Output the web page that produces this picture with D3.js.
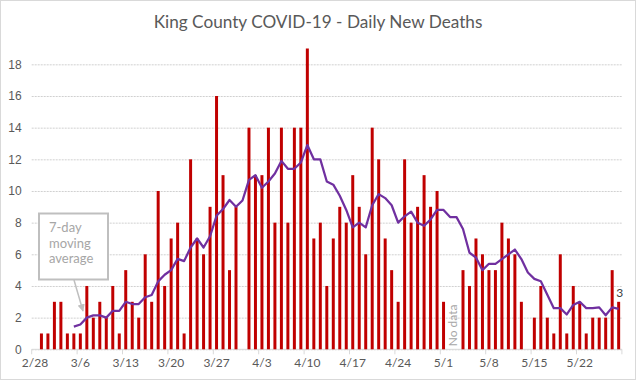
<!DOCTYPE html>
<html>
<head>
<meta charset="utf-8">
<script src="https://cdn.jsdelivr.net/npm/d3@7"></script>
<style>
body { margin: 0; background: #fff; }
svg { display: block; font-family: Lato, "Open Sans", sans-serif; }
</style>
</head>
<body>
<svg id="chart"></svg>
<script>
// one category per day, 2/28 .. 5/28 (2020)
var days = d3.timeDays(new Date(2020, 1, 28), new Date(2020, 4, 29));

// daily new deaths (null = no bar drawn)
var deaths = [0,1,1,3,3,1,1,1,4,2, 3,2,4,1,5,3,2,6,3,10, 4,7,8,1,12,7,6,9,16,11,
  5,9,null,14,11,11,14,8,14,8, 14,14,19,7,8,4,7,9,8,11, 9,6,14,12,7,5,3,12,8,9,
  11,9,10,3,null,null,5,4,7,6, 5,5,8,7,6,3,0,2,4,2, 1,6,1,4,3,1,2,2,2,5,3];

// 7-day moving average
var avg7 = [null,null,null,null,null,null,
  1.43,1.57,2.0,2.14,2.14,2.0,2.43,2.43,3.0,2.86,
  2.86,3.29,3.43,4.29,4.71,5.0,5.71,5.57,6.43,7.0,
  6.43,7.14,8.43,8.86,9.43,9.0,9.4,10.7,11.0,10.2,
  10.6,11.1,11.9,11.4,11.4,11.8,12.9,12.0,12.0,10.6,
  10.4,9.7,8.8,7.7,8.0,7.7,9.1,9.8,9.55,9.1,
  8.0,8.4,8.7,8.0,7.8,8.2,8.8,8.8,8.35,8.35,
  7.6,6.1,5.8,5.0,5.4,5.4,5.7,6.0,6.3,5.7,
  4.85,4.45,4.3,3.45,2.6,2.6,2.2,2.8,3.0,2.6,
  2.6,2.65,2.15,2.65,2.55];

var tickLabels = ["2/28","3/6","3/13","3/20","3/27","4/3","4/10","4/17","4/24","5/1","5/8","5/15","5/22"];
var yTicks = [0,2,4,6,8,10,12,14,16,18];

var width = 636, height = 381;
var plotLeft = 31.7, plotRight = 621.9, plotTop = 48.5, plotBottom = 349.3;

var svg = d3.select("#chart")
    .attr("width", width)
    .attr("height", height);

svg.append("rect")
    .attr("x", 0.5).attr("y", 0.5)
    .attr("width", width - 1).attr("height", height - 2)
    .attr("fill", "#fff")
    .attr("stroke", "#d9d9d9");

var x = d3.scaleBand()
    .domain(d3.range(days.length))
    .range([plotLeft, plotRight])
    .paddingInner(0.54)
    .paddingOuter(0.27);

var y = d3.scaleLinear()
    .domain([0, 19])
    .range([plotBottom, plotTop]);

var cx = function(i) { return x(i) + x.bandwidth() / 2; };

// gridlines + y labels
var yAxis = svg.append("g")
    .attr("transform", "translate(" + plotLeft + ",0)")
    .call(d3.axisLeft(y).tickValues(yTicks).tickSize(-(plotRight - plotLeft)).tickPadding(10));
yAxis.select(".domain").remove();
yAxis.selectAll(".tick line")
    .attr("stroke", "#d0d0d0")
    .attr("stroke-dasharray", "2,1");
yAxis.selectAll(".tick text")
    .attr("fill", "#595959")
    .attr("font-size", "12px");

// x axis line and ticks every 7 days
svg.append("line")
    .attr("x1", plotLeft).attr("x2", plotRight)
    .attr("y1", plotBottom).attr("y2", plotBottom)
    .attr("stroke", "#d9d9d9");

var step = x.step();
svg.selectAll(".xtick")
    .data(d3.range(0, days.length + 1, 7))
    .enter()
    .append("line")
    .attr("x1", function(d) { return plotLeft + d * step; })
    .attr("x2", function(d) { return plotLeft + d * step; })
    .attr("y1", plotBottom)
    .attr("y2", plotBottom + 5)
    .attr("stroke", "#d9d9d9");

svg.selectAll(".xlabel")
    .data(tickLabels)
    .enter()
    .append("text")
    .attr("x", function(d, i) { return cx(i * 7); })
    .attr("y", 367)
    .attr("text-anchor", "middle")
    .attr("fill", "#595959")
    .attr("font-size", "12px")
    .text(function(d) { return d; });

// bars
var barData = deaths
    .map(function(v, i) { return { i: i, v: v }; })
    .filter(function(d) { return d.v; });

svg.selectAll(".bar")
    .data(barData)
    .enter()
    .append("rect")
    .attr("x", function(d) { return x(d.i); })
    .attr("width", x.bandwidth())
    .attr("y", function(d) { return y(d.v); })
    .attr("height", function(d) { return plotBottom - y(d.v); })
    .attr("fill", "#c00000");

// moving average
var line = d3.line()
    .defined(function(d) { return d != null; })
    .x(function(d, i) { return cx(i); })
    .y(function(d) { return y(d); });

svg.append("path")
    .datum(avg7)
    .attr("d", line)
    .attr("fill", "none")
    .attr("stroke", "#7030a0")
    .attr("stroke-width", 2.25)
    .attr("stroke-linejoin", "round");

// title
svg.append("text")
    .attr("x", width / 2)
    .attr("y", 28)
    .attr("text-anchor", "middle")
    .attr("fill", "#595959")
    .attr("font-size", "17.2px")
    .text("King County COVID-19 - Daily New Deaths");

// last value label
var last = deaths.length - 1;
svg.append("text")
    .attr("x", cx(last) + 1)
    .attr("y", y(deaths[last]) - 5)
    .attr("text-anchor", "middle")
    .attr("fill", "#404040")
    .attr("font-size", "12px")
    .text(deaths[last]);

// "No data" note for the gap
svg.append("text")
    .attr("transform", "translate(" + ((cx(64) + cx(65)) / 2 + 4) + "," + (plotBottom - 3) + ") rotate(-90)")
    .attr("fill", "#a6a6a6")
    .attr("font-size", "12px")
    .text("No data");

// callout for the moving average
var defs = svg.append("defs");
defs.append("marker")
    .attr("id", "arrow")
    .attr("viewBox", "0 0 10 10")
    .attr("refX", 9).attr("refY", 5)
    .attr("markerWidth", 5).attr("markerHeight", 5)
    .attr("orient", "auto")
    .append("path")
    .attr("d", "M0,0L10,5L0,10z")
    .attr("fill", "#bfbfbf");

svg.append("line")
    .attr("x1", 74).attr("y1", 280)
    .attr("x2", 83).attr("y2", 311)
    .attr("stroke", "#bfbfbf")
    .attr("stroke-width", 1.5)
    .attr("marker-end", "url(#arrow)");

svg.append("rect")
    .attr("x", 39).attr("y", 213.5)
    .attr("width", 69).attr("height", 66)
    .attr("fill", "#fff")
    .attr("stroke", "#bfbfbf")
    .attr("stroke-width", 2);

svg.selectAll(".note")
    .data(["7-day", "moving", "average"])
    .enter()
    .append("text")
    .attr("x", 49)
    .attr("y", function(d, i) { return 232 + i * 15.5; })
    .attr("fill", "#a6a6a6")
    .attr("font-size", "13px")
    .text(function(d) { return d; });
</script>
</body>
</html>
